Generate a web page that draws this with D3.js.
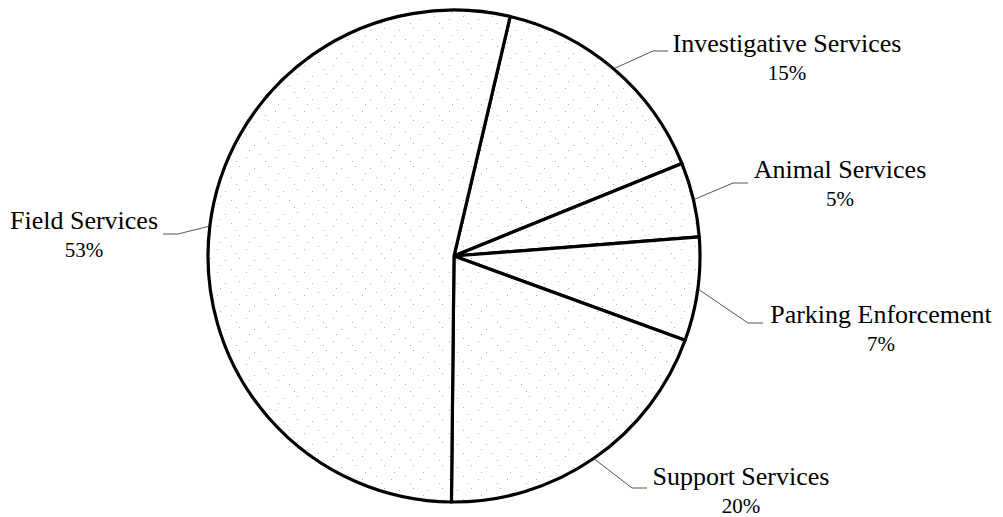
<!DOCTYPE html>
<html>
<head>
<meta charset="utf-8">
<script src="https://cdn.jsdelivr.net/npm/d3@7"></script>
<style>
  html, body { margin: 0; padding: 0; background: #fff; }
  svg { display: block; }
</style>
</head>
<body>
<svg id="chart" width="1003" height="517"></svg>
<script>
// ---- data ----
const categories = ["Investigative Services", "Animal Services", "Parking Enforcement", "Support Services", "Field Services"];
const shares = [15.2, 4.9, 6.8, 19.6, 53.5];
const pctLabels = ["15%", "5%", "7%", "20%", "53%"];

// ---- layout ----
const cx = 454, cy = 256, R = 246;
const startDeg = 13.2;
// label anchor (centre x, name baseline) and leader elbow/end points
const labelLayout = [
  { x: 787, y: 52, elbow: [653, 51], end: [668, 51] },
  { x: 840, y: 178, elbow: [733, 183], end: [748, 183] },
  { x: 881, y: 323, elbow: [748, 323], end: [763, 323] },
  { x: 741, y: 485, elbow: [632, 488], end: [647, 488] },
  { x: 84, y: 229, elbow: [178, 234], end: [163, 234] }
];

const svg = d3.select("#chart");
const defs = svg.append("defs");
const pat = defs.append("pattern")
  .attr("id", "stipple").attr("patternUnits", "userSpaceOnUse")
  .attr("width", 29).attr("height", 23);
pat.append("rect").attr("width", 29).attr("height", 23).attr("fill", "#fff");
[[3, 4], [17, 2], [9, 13], [24, 16], [14, 20], [27, 9]].forEach(([x, y]) => {
  pat.append("rect").attr("x", x).attr("y", y).attr("width", 1).attr("height", 1).attr("fill", "#b0b0b0");
});

const data = categories.map((c, i) => ({ name: c, value: shares[i], pct: pctLabels[i], layout: labelLayout[i] }));

const pie = d3.pie().value(d => d.value).sort(null)
  .startAngle(startDeg * Math.PI / 180)
  .endAngle(startDeg * Math.PI / 180 + 2 * Math.PI);
const arcs = pie(data);
const arc = d3.arc().innerRadius(0).outerRadius(R);

const g = svg.append("g").attr("transform", `translate(${cx},${cy})`);
g.selectAll("path.slice").data(arcs).join("path")
  .attr("class", "slice")
  .attr("d", arc)
  .attr("fill", "url(#stipple)")
  .attr("stroke", "#000")
  .attr("stroke-width", 3.2)
  .attr("stroke-linejoin", "round");

// leaders
const edge = a => {
  const m = (a.startAngle + a.endAngle) / 2;
  return [cx + (R + 1) * Math.sin(m), cy - (R + 1) * Math.cos(m)];
};
svg.selectAll("polyline.leader").data(arcs).join("polyline")
  .attr("class", "leader")
  .attr("points", d => [edge(d), d.data.layout.elbow, d.data.layout.end].map(p => p.join(",")).join(" "))
  .attr("fill", "none")
  .attr("stroke", "#555")
  .attr("stroke-width", 1);

const lbl = svg.selectAll("g.lbl").data(arcs).join("g").attr("class", "lbl");
lbl.append("text")
  .attr("x", d => d.data.layout.x).attr("y", d => d.data.layout.y)
  .attr("text-anchor", "middle")
  .attr("font-family", "'Liberation Serif', 'Times New Roman', serif")
  .attr("font-size", 26)
  .attr("fill", "#000")
  .text(d => d.data.name);
lbl.append("text")
  .attr("x", d => d.data.layout.x).attr("y", d => d.data.layout.y + 28)
  .attr("text-anchor", "middle")
  .attr("font-family", "'Liberation Serif', 'Times New Roman', serif")
  .attr("font-size", 21)
  .attr("fill", "#000")
  .text(d => d.data.pct);
</script>
</body>
</html>
